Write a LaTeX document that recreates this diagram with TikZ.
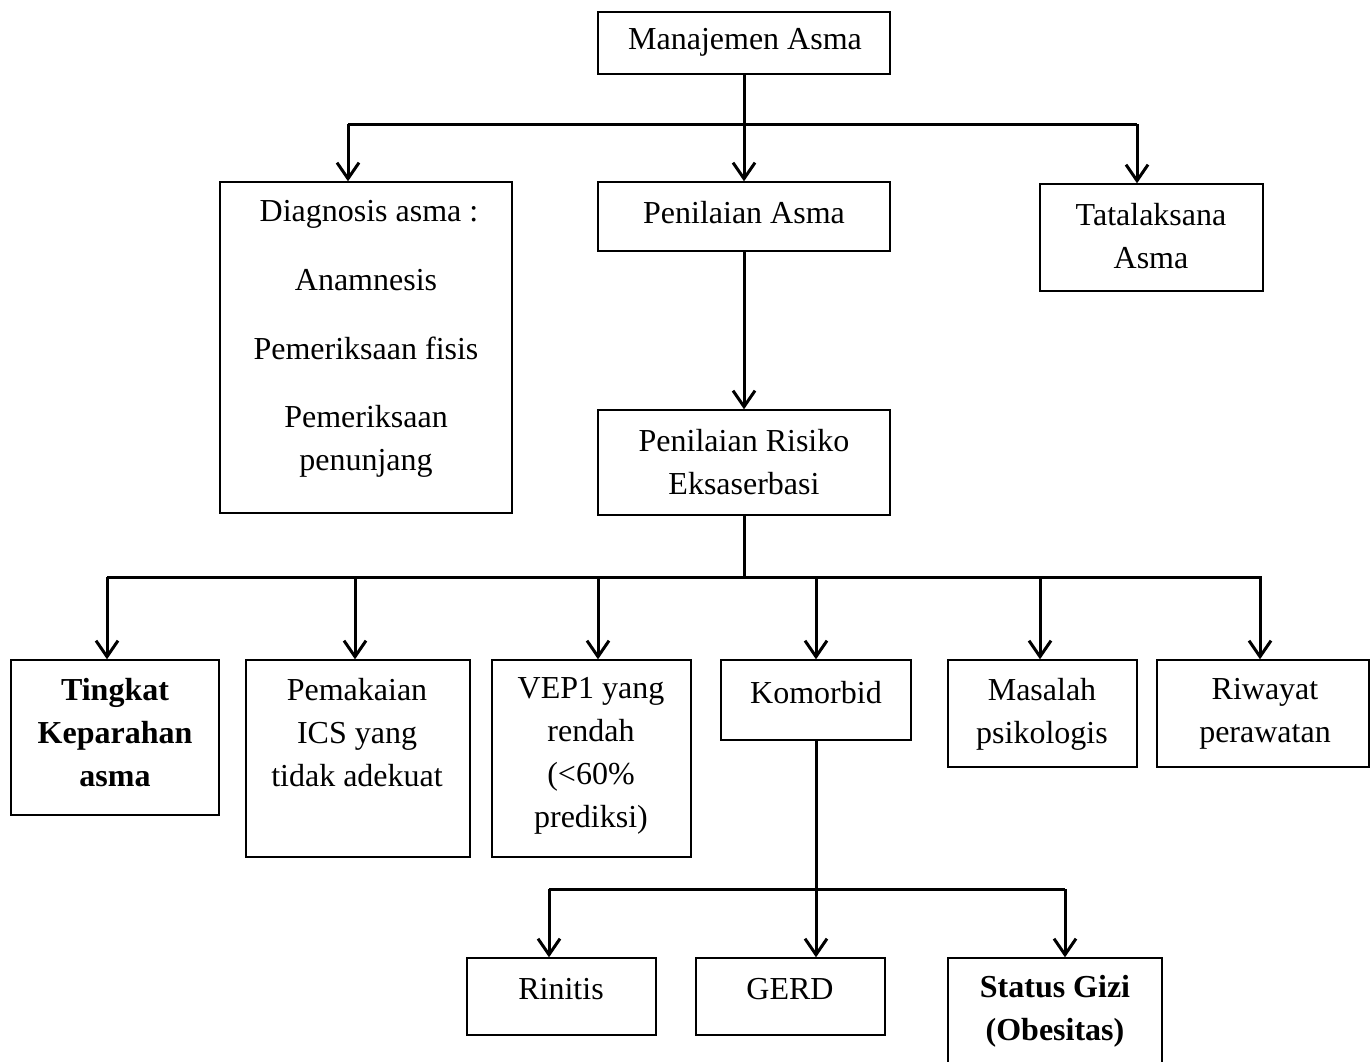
\documentclass[tikz,border=0pt]{standalone}
\usepackage{fontspec}
\setmainfont{Liberation Serif}
\usetikzlibrary{arrows.meta}
\begin{document}
\begin{tikzpicture}[x=0.5pt,y=-0.5pt,
  box/.style={draw=black,line width=0.7pt,rectangle,inner sep=0pt},
  txt/.style={align=center,inner sep=0pt,font=\fontsize{16}{21.5}\selectfont},
  btxt/.style={txt,font=\fontsize{16}{21.5}\selectfont\bfseries},
  conn/.style={line width=1.5pt},
  arr/.style={conn,-{Straight Barb[length=8pt,width=11pt]}}]
\useasboundingbox (0,0) rectangle (1370,1061);
% boxes (corner-defined)
\newcommand{\bx}[5]{\node[box,minimum width=#4*0.5pt-#2*0.5pt,minimum height=#5*0.5pt-#3*0.5pt] (#1) at ({(#2+#4)/2},{(#3+#5)/2}) {};}
\bx{m}{598}{12}{890}{74}
\bx{diag}{220}{182}{512}{513}
\bx{pa}{598}{182}{890}{251}
\bx{tata}{1040}{184}{1263}{291}
\bx{pr}{598}{410}{890}{515}
\bx{ting}{11}{660}{219}{815}
\bx{pem}{246}{660}{470}{857}
\bx{vep}{492}{660}{691}{857}
\bx{kom}{721}{660}{911}{740}
\bx{mas}{948}{660}{1137}{767}
\bx{riw}{1157}{660}{1369}{767}
\bx{rin}{467}{958}{656}{1035}
\bx{gerd}{696}{958}{885}{1035}
\bx{gizi}{948}{958}{1162}{1080}
% texts
\node[txt] (tm) at (745,42) {Manajemen Asma};
\node[txt] (td1) at (369,214) {Diagnosis asma :};
\node[txt] (td2) at (366,280) {Anamnesis};
\node[txt] (td3) at (366,348) {Pemeriksaan fisis};
\node[txt] (td4) at (366,441) {Pemeriksaan\\penunjang};
\node[txt] (tpa) at (744,213) {Penilaian Asma};
\node[txt] (ttata) at (1151,236) {Tatalaksana\\Asma};
\node[txt] (tpr) at (744,462) {Penilaian Risiko\\Eksaserbasi};
\node[btxt] (tting) at (115,733) {Tingkat\\Keparahan\\asma};
\node[txt] (tpem) at (357,733) {Pemakaian\\ICS yang\\tidak adekuat};
\node[txt] (tvep) at (591,756) {VEP1 yang\\rendah\\(<60\%\\prediksi)};
\node[txt] (tkom) at (816,693) {Komorbid};
\node[txt] (tmas) at (1042,714) {Masalah\\psikologis};
\node[txt] (triw) at (1265,714) {Riwayat\\perawatan};
\node[txt] (trin) at (561,989) {Rinitis};
\node[txt] (tgerd) at (790,989) {GERD};
\node[btxt] (tgizi) at (1055,1011) {Status Gizi\\(Obesitas)};
% level 1 connectors
\coordinate (j1a) at (348,124);
\coordinate (j1b) at (1137,124);
\draw[arr] (m.south) -- (pa.north);
\draw[conn] (j1a) -- (j1b);
\draw[arr] (j1a) -- (j1a |- diag.north);
\draw[arr] (j1b) -- (j1b |- tata.north);
\draw[arr] (pa.south) -- (pr.north);
% level 2
\coordinate (j2) at (744,577);
\coordinate (j2a) at (107,577);
\coordinate (j2b) at (355,577);
\coordinate (j2c) at (598,577);
\coordinate (j2d) at (816,577);
\coordinate (j2e) at (1040,577);
\coordinate (j2f) at (1260,577);
\coordinate (j2g) at (1262,577);
\draw[conn] (pr.south) -- (j2);
\draw[conn] (j2a) -- (j2g);
\draw[arr] (j2a) -- (j2a |- ting.north);
\draw[arr] (j2b) -- (j2b |- pem.north);
\draw[arr] (j2c) -- (j2c |- vep.north);
\draw[arr] (j2d) -- (j2d |- kom.north);
\draw[arr] (j2e) -- (j2e |- mas.north);
\draw[arr] (j2f) -- (j2f |- riw.north);
% level 3
\coordinate (j3a) at (549,889);
\coordinate (j3b) at (1065,889);
\draw[arr] (kom.south) -- (kom.south |- gerd.north);
\draw[conn] (j3a) -- (j3b);
\draw[arr] (j3a) -- (j3a |- rin.north);
\draw[arr] (j3b) -- (j3b |- gizi.north);
\end{tikzpicture}
\end{document}
